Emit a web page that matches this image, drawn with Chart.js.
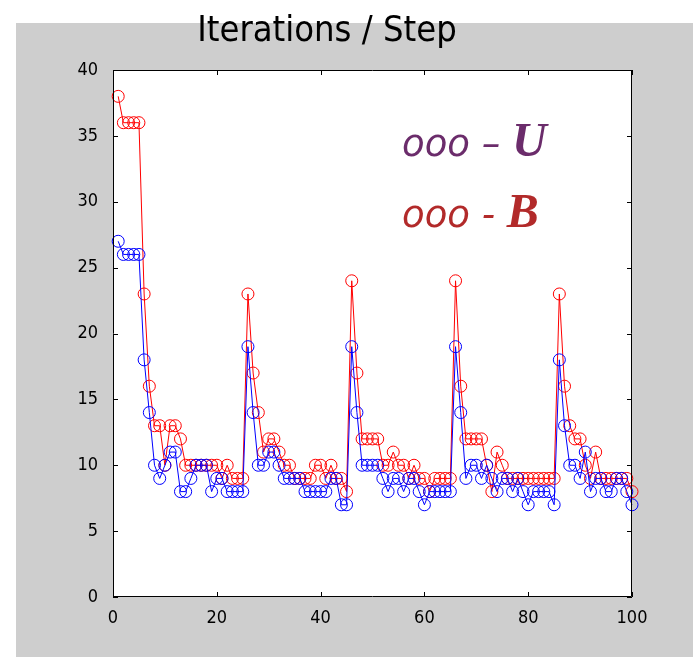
<!DOCTYPE html>
<html lang="en">
<head>
<meta charset="UTF-8">
<title>Iterations / Step</title>
<script src="https://cdn.jsdelivr.net/npm/chart.js"></script>
<style>
  html, body { margin: 0; padding: 0; background: #fff; }
  #wrap { position: relative; width: 693px; height: 657px; }
</style>
</head>
<body>
<div id="wrap"><canvas id="iterChart" width="693" height="657"></canvas></div>
<script>
// time step index
const steps = [
  1, 2, 3, 4, 5, 6, 7, 8, 9, 10, 11, 12, 13, 14, 15, 16, 17, 18, 19, 20,
  21, 22, 23, 24, 25, 26, 27, 28, 29, 30, 31, 32, 33, 34, 35, 36, 37, 38, 39, 40,
  41, 42, 43, 44, 45, 46, 47, 48, 49, 50, 51, 52, 53, 54, 55, 56, 57, 58, 59, 60,
  61, 62, 63, 64, 65, 66, 67, 68, 69, 70, 71, 72, 73, 74, 75, 76, 77, 78, 79, 80,
  81, 82, 83, 84, 85, 86, 87, 88, 89, 90, 91, 92, 93, 94, 95, 96, 97, 98, 99, 100
];

// iterations per step, U solver (blue)
const itersU = [
  27, 26, 26, 26, 26, 18, 14, 10, 9, 10, 11, 11, 8, 8, 9, 10, 10, 10, 8, 9,
  9, 8, 8, 8, 8, 19, 14, 10, 10, 11, 11, 10, 9, 9, 9, 9, 8, 8, 8, 8,
  8, 9, 9, 7, 7, 19, 14, 10, 10, 10, 10, 9, 8, 9, 9, 8, 9, 9, 8, 7,
  8, 8, 8, 8, 8, 19, 14, 9, 10, 10, 9, 10, 9, 8, 9, 9, 8, 9, 8, 7,
  8, 8, 8, 8, 7, 18, 13, 10, 10, 9, 11, 8, 9, 9, 8, 8, 9, 9, 8, 7
];

// iterations per step, B solver (red)
const itersB = [
  38, 36, 36, 36, 36, 23, 16, 13, 13, 10, 13, 13, 12, 10, 10, 10, 10, 10, 10, 10,
  9, 10, 9, 9, 9, 23, 17, 14, 11, 12, 12, 11, 10, 10, 9, 9, 9, 9, 10, 10,
  9, 10, 9, 9, 8, 24, 17, 12, 12, 12, 12, 10, 10, 11, 10, 10, 9, 10, 9, 9,
  8, 9, 9, 9, 9, 24, 16, 12, 12, 12, 12, 10, 8, 11, 10, 9, 9, 9, 9, 9,
  9, 9, 9, 9, 9, 23, 16, 13, 12, 12, 10, 9, 11, 9, 9, 9, 9, 9, 9, 8
];

const xTicks = [0, 20, 40, 60, 80, 100];
const yTicks = [0, 5, 10, 15, 20, 25, 30, 35, 40];

const tickFont = '"DejaVu Sans Condensed", "Liberation Sans", sans-serif';

function toPoints(vals) {
  return steps.map((s, i) => ({ x: s, y: vals[i] }));
}

function series(vals, color) {
  return {
    data: toPoints(vals),
    borderColor: color,
    backgroundColor: 'rgba(0,0,0,0)',
    borderWidth: 1,
    pointStyle: 'circle',
    pointRadius: 6,
    pointBorderWidth: 1,
    pointBorderColor: color,
    pointBackgroundColor: 'rgba(0,0,0,0)',
    tension: 0,
    clip: false
  };
}

// figure background, axes frame with inward ticks, title and the text key
const figurePlugin = {
  id: 'figure',
  beforeDraw(chart) {
    const { ctx, chartArea: a } = chart;
    ctx.save();
    ctx.fillStyle = '#fff';
    ctx.fillRect(0, 0, chart.width, chart.height);
    ctx.fillStyle = '#cecece';
    ctx.fillRect(16, 23, chart.width - 16, chart.height - 23);
    ctx.fillStyle = '#fff';
    ctx.fillRect(a.left, a.top, a.right - a.left, a.bottom - a.top);
    ctx.restore();
  },
  afterDraw(chart) {
    const { ctx, chartArea: a } = chart;
    const xs = chart.scales.x, ys = chart.scales.y;
    const tl = 5;
    ctx.save();
    ctx.strokeStyle = '#000';
    ctx.lineWidth = 1;
    ctx.beginPath();
    ctx.rect(a.left + 0.5, a.top + 0.5, a.right - a.left - 1, a.bottom - a.top - 1);
    xTicks.forEach(v => {
      const px = Math.round(xs.getPixelForValue(v)) + 0.5;
      ctx.moveTo(px, a.bottom); ctx.lineTo(px, a.bottom - tl);
      ctx.moveTo(px, a.top); ctx.lineTo(px, a.top + tl);
    });
    yTicks.forEach(v => {
      const py = Math.round(ys.getPixelForValue(v)) + 0.5;
      ctx.moveTo(a.left, py); ctx.lineTo(a.left + tl, py);
      ctx.moveTo(a.right, py); ctx.lineTo(a.right - tl, py);
    });
    ctx.stroke();

    // title
    ctx.fillStyle = '#000';
    ctx.textAlign = 'center';
    ctx.textBaseline = 'alphabetic';
    ctx.font = '36px "DejaVu Sans Condensed", "Liberation Sans", sans-serif';
    ctx.fillText('Iterations / Step', 327, 41);

    // key
    ctx.textAlign = 'left';
    const keyRow = (y, color, dash, letter) => {
      ctx.fillStyle = color;
      ctx.font = 'italic 37px "DejaVu Sans", sans-serif';
      ctx.fillText('ooo', 402, y);
      let x = 402 + ctx.measureText('ooo ').width;
      ctx.fillText(dash, x, y);
      x += ctx.measureText(dash + ' ').width;
      ctx.font = 'italic bold 48px "Liberation Serif", serif';
      ctx.fillText(letter, x, y);
    };
    keyRow(156, '#6b2c6b', '\u2013', 'U');
    keyRow(227, '#b22a2a', '-', 'B');
    ctx.restore();
  }
};

const chart = new Chart(document.getElementById('iterChart'), {
  type: 'line',
  data: {
    datasets: [series(itersU, '#0000ff'), series(itersB, '#ff0000')]
  },
  options: {
    responsive: false,
    animation: false,
    devicePixelRatio: 1,
    layout: { padding: { top: 70, right: 61, bottom: 0, left: 0 } },
    plugins: {
      legend: { display: false },
      title: { display: false },
      tooltip: { enabled: false }
    },
    scales: {
      x: {
        type: 'linear',
        min: 0,
        max: 100,
        afterFit: s => { s.height = 60; },
        afterBuildTicks: s => { s.ticks = xTicks.map(v => ({ value: v })); },
        grid: { display: false },
        border: { display: false },
        ticks: { color: '#000', padding: 3, font: { family: tickFont, size: 18 } }
      },
      y: {
        min: 0,
        max: 40,
        afterFit: s => { s.width = 113; },
        afterBuildTicks: s => { s.ticks = yTicks.map(v => ({ value: v })); },
        grid: { display: false },
        border: { display: false },
        ticks: { color: '#000', padding: 7, font: { family: tickFont, size: 18 } }
      }
    }
  },
  plugins: [figurePlugin]
});
</script>
</body>
</html>
